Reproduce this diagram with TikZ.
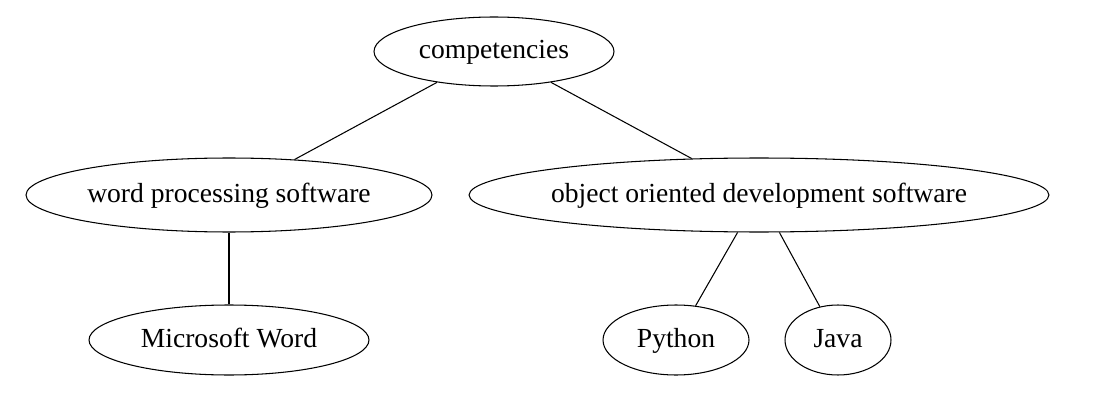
\documentclass[tikz,border=0pt]{standalone}
\usepackage{fontspec}
\setmainfont{Liberation Serif}
\usetikzlibrary{shapes.geometric}
\begin{document}
\begin{tikzpicture}[x=0.02cm,y=-0.02cm,
        skill/.style={draw,semithick,ellipse,inner ysep=0pt,inner xsep=-5pt,text height=10pt,text depth=1.6pt,
            font=\fontsize{15.7}{18}\selectfont},
        link/.style={draw,semithick}]
        \useasboundingbox (0,0) rectangle (1094,405);
        \node[skill,minimum width=4.8cm,minimum height=1.38cm] (comp) at (494,51.5) {competencies};
        \node[skill,minimum width=8.12cm,minimum height=1.48cm] (word) at (229,195) {word processing software};
        \node[skill,minimum width=11.6cm,minimum height=1.48cm] (oop) at (759,195) {object oriented development software};
        \node[skill,minimum width=5.6cm,minimum height=1.4cm] (msword) at (229,340) {Microsoft Word};
        \node[skill,minimum width=2.92cm,minimum height=1.4cm] (python) at (676,340) {Python};
        \node[skill,minimum width=2.12cm,minimum height=1.4cm] (java) at (838,340) {Java};
        \draw[link] (comp) -- (word);
        \draw[link] (comp) -- (oop);
        \draw[link] (word) -- (msword);
        \draw[link] (oop) -- (python);
        \draw[link] (oop) -- (java);
    \end{tikzpicture}
\end{document}
